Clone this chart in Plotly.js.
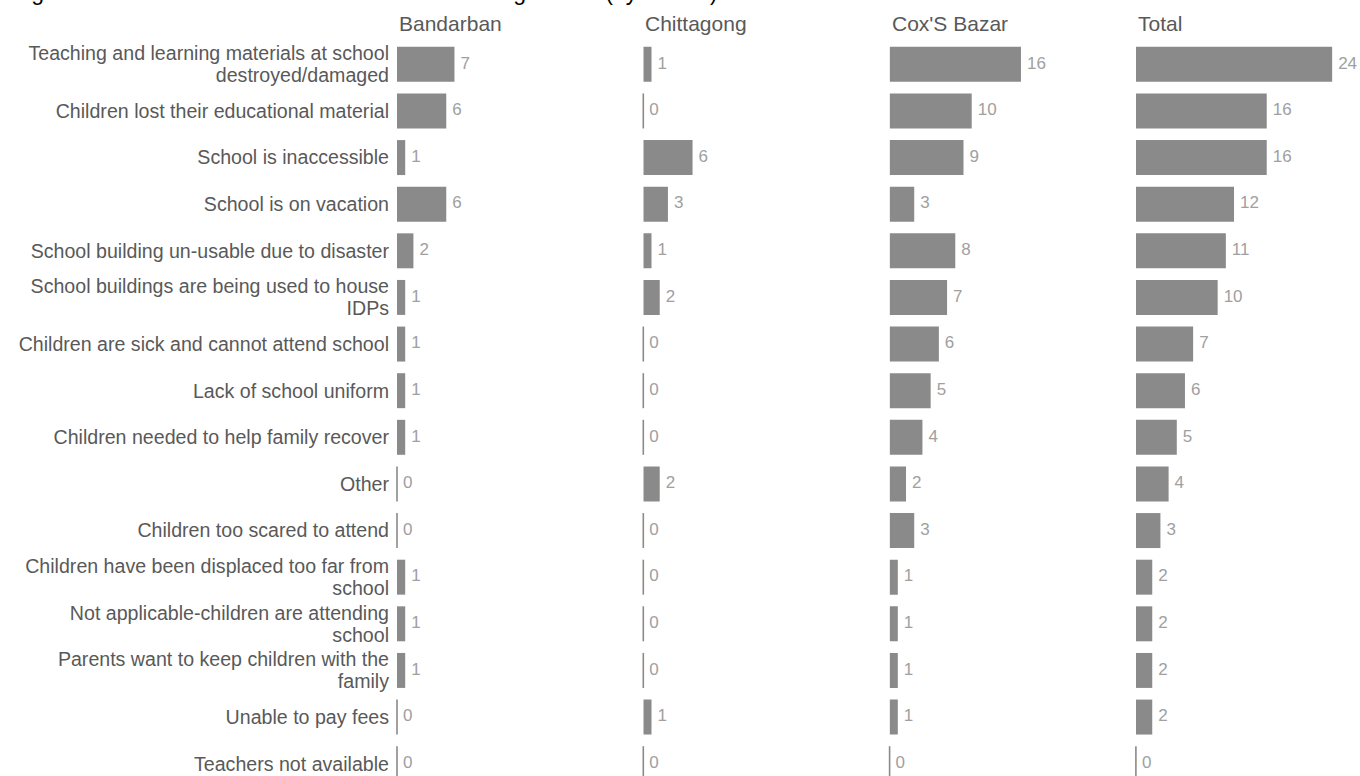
<!DOCTYPE html>
<html>
<head>
<meta charset="utf-8">
<script src="https://cdn.plot.ly/plotly-3.0.1.min.js"></script>
<style>
  html, body { margin: 0; padding: 0; background: #fff; overflow: hidden; }
  #chart { width: 1360px; height: 790px; }
</style>
</head>
<body>
<div id="chart"></div>
<script>
// Reasons given for children not attending school, counted per district
const categories = [
  'Teaching and learning materials at school destroyed/damaged',
  'Children lost their educational material',
  'School is inaccessible',
  'School is on vacation',
  'School building un-usable due to disaster',
  'School buildings are being used to house IDPs',
  'Children are sick and cannot attend school',
  'Lack of school uniform',
  'Children needed to help family recover',
  'Other',
  'Children too scared to attend',
  'Children have been displaced too far from school',
  'Not applicable-children are attending school',
  'Parents want to keep children with the family',
  'Unable to pay fees',
  'Teachers not available'
];

// Wrapped versions of the category names used as axis tick labels
const categoryLabels = [
  'Teaching and learning materials at school<br>destroyed/damaged',
  'Children lost their educational material',
  'School is inaccessible',
  'School is on vacation',
  'School building un-usable due to disaster',
  'School buildings are being used to house<br>IDPs',
  'Children are sick and cannot attend school',
  'Lack of school uniform',
  'Children needed to help family recover',
  'Other',
  'Children too scared to attend',
  'Children have been displaced too far from<br>school',
  'Not applicable-children are attending<br>school',
  'Parents want to keep children with the<br>family',
  'Unable to pay fees',
  'Teachers not available'
];

const districts = ['Bandarban', 'Chittagong', "Cox'S Bazar", 'Total'];

const bandarban  = [7, 6, 1, 6, 2, 1, 1, 1, 1, 0, 0, 1, 1, 1, 0, 0];
const chittagong = [1, 0, 6, 3, 1, 2, 0, 0, 0, 2, 0, 0, 0, 0, 1, 0];
const coxsBazar  = [16, 10, 9, 3, 8, 7, 6, 5, 4, 2, 3, 1, 1, 1, 1, 0];
const total      = [24, 16, 16, 12, 11, 10, 7, 6, 5, 4, 3, 2, 2, 2, 2, 0];

const panelValues = [bandarban, chittagong, coxsBazar, total];

// Styling
const BAR_COLOR = '#8a8a8a';
const VALUE_COLOR = '#a0a0a0';
const LABEL_COLOR = '#595959';
const FONT = 'Liberation Sans, Arial, sans-serif';
const LABEL_SIZE = 19.6;
const LABEL_LINE_EM = 1.12;   // tighter spacing for wrapped category labels

const W = 1360, H = 790;
const marginL = 397, marginR = 0, marginT = 41, marginB = 3;
const plotW = W - marginL - marginR;
const panelStep = 246.3;   // px between panel origins
const panelWidth = 225;    // px of each panel
const pxPerUnit = 8.21;    // shared scale across panels
const xMax = panelWidth / pxPerUnit;

const traces = [];
const layout = {
  width: W,
  height: H,
  margin: { l: marginL, r: marginR, t: marginT, b: marginB, pad: 0 },
  paper_bgcolor: '#ffffff',
  plot_bgcolor: '#ffffff',
  showlegend: false,
  hovermode: false,
  bargap: 0.25,
  font: { family: FONT, color: LABEL_COLOR },
  title: {
    text: 'Figure 10: Main reasons children are not attending school (by district)',
    x: 12 / W,
    xref: 'container',
    xanchor: 'left',
    y: 1,
    yref: 'container',
    yanchor: 'bottom',
    font: { family: FONT, size: 23, color: '#000000' }
  },
  yaxis: {
    anchor: 'x',
    type: 'category',
    categoryorder: 'array',
    categoryarray: categories,
    range: [categories.length - 0.5, -0.5],
    tickvals: categories,
    ticktext: categoryLabels,
    ticks: '',
    ticklabelstandoff: 7,
    showgrid: false,
    zeroline: false,
    showline: false,
    tickfont: { family: FONT, size: LABEL_SIZE, color: LABEL_COLOR },
    fixedrange: true
  },
  annotations: []
};

panelValues.forEach((vals, i) => {
  const axSuffix = i === 0 ? '' : String(i + 1);
  const xName = 'x' + axSuffix;
  const start = (panelStep * i) / plotW;
  const end = Math.min(1, (panelStep * i + panelWidth) / plotW);

  layout['xaxis' + axSuffix] = {
    domain: [start, end],
    range: [0, xMax],
    anchor: 'y',
    showgrid: false,
    zeroline: false,
    showline: false,
    showticklabels: false,
    ticks: '',
    fixedrange: true
  };

  // Bars
  traces.push({
    type: 'bar',
    orientation: 'h',
    x: vals,
    y: categories,
    xaxis: xName,
    yaxis: 'y',
    marker: { color: BAR_COLOR, line: { width: 0 } },
    hoverinfo: 'skip'
  });

  // Thin marks for zero counts
  const zeroCats = categories.filter((c, k) => vals[k] === 0);
  traces.push({
    type: 'scatter',
    mode: 'markers',
    x: zeroCats.map(() => 0),
    y: zeroCats,
    xaxis: xName,
    yaxis: 'y',
    marker: {
      symbol: 'line-ns-open',
      size: 25,
      color: BAR_COLOR,
      line: { width: 1.6, color: BAR_COLOR }
    },
    cliponaxis: false,
    hoverinfo: 'skip'
  });

  // Value labels, pushed right of the bar end by an invisible marker
  traces.push({
    type: 'scatter',
    mode: 'markers+text',
    x: vals,
    y: categories,
    xaxis: xName,
    yaxis: 'y',
    marker: { size: 8, opacity: 0 },
    text: vals.map(String),
    textposition: 'middle right',
    textfont: { family: FONT, size: 17, color: VALUE_COLOR },
    cliponaxis: false,
    hoverinfo: 'skip'
  });

  // Panel header
  layout.annotations.push({
    text: districts[i],
    xref: xName + ' domain',
    x: 0,
    xanchor: 'left',
    yref: 'paper',
    y: 1,
    yanchor: 'bottom',
    yshift: 4,
    showarrow: false,
    font: { family: FONT, size: 21, color: LABEL_COLOR }
  });
});

// Tighten the line spacing of wrapped tick labels, keeping each block centred
function tightenTickLines(gd) {
  gd.querySelectorAll('.ytick text').forEach(text => {
    const lines = text.querySelectorAll('tspan.line');
    const n = lines.length;
    if (n < 2) return;
    const baseY = text.getAttribute('y') || '0';
    const shift = (n - 1) * (1.3 - LABEL_LINE_EM) / 2;
    lines.forEach((ln, k) => {
      ln.setAttribute('y', baseY);
      ln.setAttribute('dy', (shift + k * LABEL_LINE_EM).toFixed(3) + 'em');
    });
  });
}

Plotly.newPlot('chart', traces, layout, { displayModeBar: false, staticPlot: true })
  .then(gd => tightenTickLines(gd));
</script>
</body>
</html>
